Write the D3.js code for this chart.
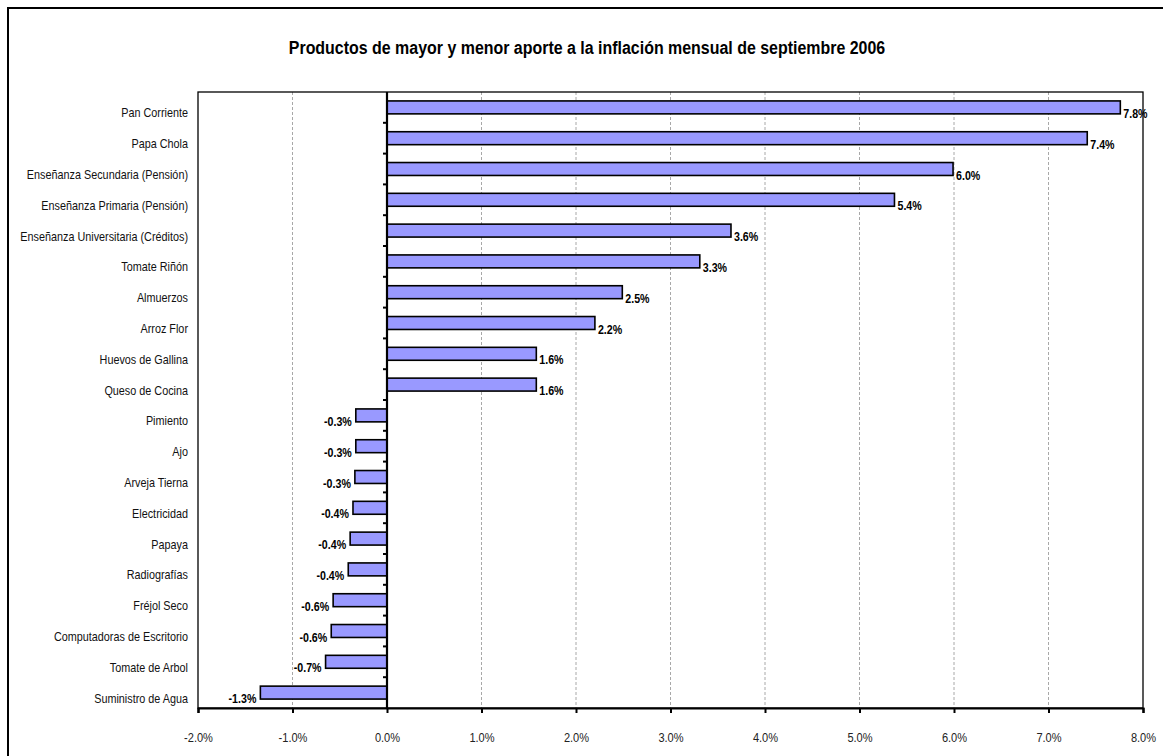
<!DOCTYPE html>
<html><head><meta charset="utf-8">
<script src="https://cdn.jsdelivr.net/npm/d3@7"></script>
<style>
body{margin:0;background:#fff;}
text{font-family:"Liberation Sans",Arial,sans-serif;}
</style></head><body>
<svg id="c" width="1163" height="756"></svg>
<script>
const title = "Productos de mayor y menor aporte a la inflación mensual de septiembre 2006";
const categories = ["Pan Corriente","Papa Chola","Enseñanza Secundaria (Pensión)","Enseñanza Primaria (Pensión)","Enseñanza Universitaria (Créditos)","Tomate Riñón","Almuerzos","Arroz Flor","Huevos de Gallina","Queso de Cocina","Pimiento","Ajo","Arveja Tierna","Electricidad","Papaya","Radiografías","Fréjol Seco","Computadoras de Escritorio","Tomate de Arbol","Suministro de Agua"];
const values = [7.76,7.41,5.99,5.37,3.64,3.31,2.49,2.20,1.58,1.58,-0.33,-0.33,-0.34,-0.36,-0.39,-0.41,-0.57,-0.59,-0.65,-1.34];
const xTicks = [-2,-1,0,1,2,3,4,5,6,7,8];

const SX = 0.82; // narrow font emulation
const svg = d3.select("#c");
const L=198, T=92, R=1143, B=708;
const x = d3.scaleLinear().domain([-2,8]).range([L,R]);
const y = d3.scaleBand().domain(categories).range([T,B]).paddingInner(0.58).paddingOuter(0.29);
const fmt = v => (v<0?"-":"") + Math.abs(v).toFixed(1) + "%";

function ntext(g, px, py) {
  return g.attr("transform", (d,i)=>`translate(${px(d,i)},${py(d,i)}) scale(${SX},1)`);
}

// outer border
svg.append("rect").attr("x",8).attr("y",8).attr("width",1170).attr("height",770)
  .attr("fill","none").attr("stroke","#000").attr("stroke-width",2);

svg.append("text").attr("transform",`translate(587,54) scale(0.84,1)`).attr("text-anchor","middle")
  .attr("font-size",19).attr("font-weight","bold").text(title);

// grid
svg.append("g").selectAll("line").data(xTicks.filter(d=>d!==-2 && d!==0 && d!==8)).join("line")
  .attr("x1",d=>x(d)).attr("x2",d=>x(d)).attr("y1",T).attr("y2",B)
  .attr("stroke","#a8a8a8").attr("stroke-width",1).attr("stroke-dasharray","3,2");

// plot box
svg.append("rect").attr("x",L).attr("y",T).attr("width",R-L).attr("height",B-T)
  .attr("fill","none").attr("stroke","#000").attr("stroke-width",1.3);

// bars
svg.append("g").selectAll("rect").data(values).join("rect")
  .attr("x",(d)=>x(Math.min(0,d))).attr("width",d=>Math.abs(x(d)-x(0)))
  .attr("y",(d,i)=>y(categories[i])).attr("height",y.bandwidth())
  .attr("fill","#9999FF").attr("stroke","#000").attr("stroke-width",1.6);

// x axis
const xa = svg.append("g").attr("transform",`translate(0,${B})`)
  .call(d3.axisBottom(x).tickValues(xTicks).tickFormat(fmt).tickSize(5).tickPadding(10));
xa.select(".domain").attr("stroke-width",2.2);
xa.selectAll(".tick line").attr("stroke-width",2);
xa.selectAll(".tick text").attr("font-size",13.5).attr("fill","#222")
  .attr("font-family","Liberation Sans, Arial, sans-serif")
  .attr("transform",`translate(0,29) scale(${SX},1)`).attr("dy","0.35em").attr("y",0);

// y axis at zero
const ya = svg.append("g");
ya.append("line").attr("x1",x(0)).attr("x2",x(0)).attr("y1",T).attr("y2",B).attr("stroke","#000").attr("stroke-width",2.2);
ya.selectAll("line.t").data(d3.range(1,categories.length)).join("line").attr("class","t")
  .attr("x1",x(0)-4).attr("x2",x(0)).attr("y1",i=>T+i*(B-T)/categories.length).attr("y2",i=>T+i*(B-T)/categories.length)
  .attr("stroke","#000").attr("stroke-width",2);

// category labels
ntext(svg.append("g").selectAll("text").data(categories).join("text"),
  ()=>188, d=>y(d)+y.bandwidth()/2+10)
  .attr("text-anchor","end").attr("font-size",13.2).attr("fill","#111").text(d=>d);

// value labels
ntext(svg.append("g").selectAll("text").data(values).join("text"),
  d=>d>=0? x(d)+3 : x(d)-4, (d,i)=>y(categories[i])+y.bandwidth()/2+10.5)
  .attr("text-anchor",d=>d>=0?"start":"end")
  .attr("font-size",13).attr("font-weight","bold").text(d=>fmt(d));
</script></body></html>
